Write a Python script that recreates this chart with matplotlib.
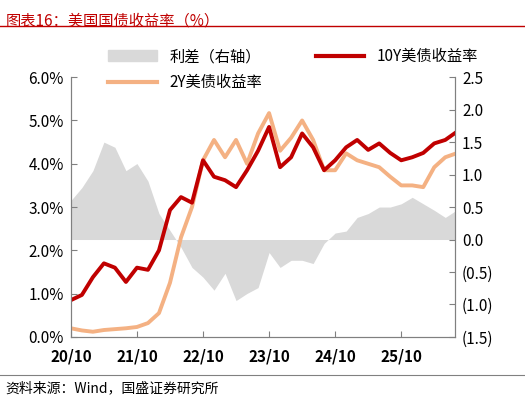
import matplotlib
matplotlib.use("Agg")
import matplotlib.pyplot as plt
from matplotlib.patches import Patch
from matplotlib.lines import Line2D
import numpy as np

plt.rcParams['font.family'] = ['Noto Sans CJK SC', 'DejaVu Sans']

# 2-month spacing starting 2020/10
y10 = [0.85,0.97,1.38,1.70,1.60,1.27,1.60,1.55,2.00,2.93,3.23,3.10,4.08,3.70,3.62,3.46,3.85,4.30,
       4.85,3.92,4.15,4.70,4.38,3.85,4.08,4.38,4.55,4.32,4.47,4.25,4.08,4.15,4.25,4.47,4.55,4.73]
y2 = [0.20,0.15,0.12,0.16,0.18,0.20,0.23,0.32,0.55,1.25,2.30,3.00,4.08,4.55,4.15,4.55,4.00,4.70,
      5.17,4.30,4.60,5.00,4.55,3.85,3.85,4.24,4.08,4.00,3.92,3.70,3.50,3.50,3.46,3.92,4.15,4.24]
spread = [0.60,0.80,1.06,1.50,1.42,1.06,1.17,0.90,0.40,0.14,-0.12,-0.43,-0.58,-0.78,-0.52,-0.94,-0.83,-0.74,
          -0.20,-0.43,-0.32,-0.32,-0.37,-0.06,0.10,0.13,0.34,0.40,0.50,0.50,0.55,0.65,0.55,0.45,0.34,0.45]
tick_labels = ['20/10','21/10','22/10','23/10','24/10','25/10']

x = np.arange(len(y10)) * 2
fig = plt.figure(figsize=(5.25, 4.04), dpi=100)
ax = fig.add_axes([0.135, 0.166, 0.732, 0.643])
ax2 = ax.twinx()
ax.set_zorder(ax2.get_zorder() + 1); ax.patch.set_visible(False)

ax2.fill_between(x, 0, spread, color='#d9d9d9', lw=0)
ax2.set_ylim(-1.5, 2.5)
ax2.set_yticks(np.arange(-1.5, 2.51, 0.5))
labs = []
for v in np.arange(-1.5, 2.51, 0.5):
    labs.append(f'({abs(v):.1f})' if v < -1e-9 else f'{v:.1f}')
ax2.set_yticklabels(labs)
for t, v in zip(ax2.get_yticklabels(), np.arange(-1.5, 2.51, 0.5)):
    if v < -1e-9:
        t.set_color('#c00000')

ax.plot(x, y2, color='#f4b183', lw=2.8)
ax.plot(x, y10, color='#c00000', lw=2.8)
ax.set_ylim(0, 6)
ax.set_yticks(range(7))
ax.set_yticklabels([f'{i}.0%' for i in range(7)])
ax.set_xlim(0, 69.8)
ax.set_xticks(np.arange(len(tick_labels)) * 12)
ax.set_xticklabels(tick_labels, fontweight='bold')

for a in (ax, ax2):
    a.spines['top'].set_visible(False)
    for s in ('left', 'right', 'bottom'):
        a.spines[s].set_color('#808080')
    a.tick_params(direction='in', colors='black', labelsize=11, length=4, pad=5)
    a.tick_params(axis='both', color='#808080')
ax.tick_params(axis='x', pad=8)

handles = [Patch(color='#d9d9d9', label='利差（右轴）'),
           Line2D([], [], color='#f4b183', lw=3, label='2Y美债收益率'),
           Line2D([], [], color='#c00000', lw=3, label='10Y美债收益率')]
fig.legend(handles=handles, ncol=2, loc='upper left', bbox_to_anchor=(0.18, 0.915),
           frameon=False, fontsize=11, columnspacing=3.5, handlelength=3.2, labelspacing=0.6)

fig.text(0.01, 0.97, '图表16：美国国债收益率（%）', color='#c00000', fontsize=11,
         style='italic', va='top')
fig.add_artist(Line2D([0.0, 1.0], [0.935, 0.935], color='#c00000', lw=1))
fig.add_artist(Line2D([0.0, 1.0], [0.072, 0.072], color='#808080', lw=0.8))
fig.text(0.01, 0.04, '资料来源：Wind，国盛证券研究所', fontsize=10, style='italic', va='center')

fig.savefig('out.png', dpi=100)
